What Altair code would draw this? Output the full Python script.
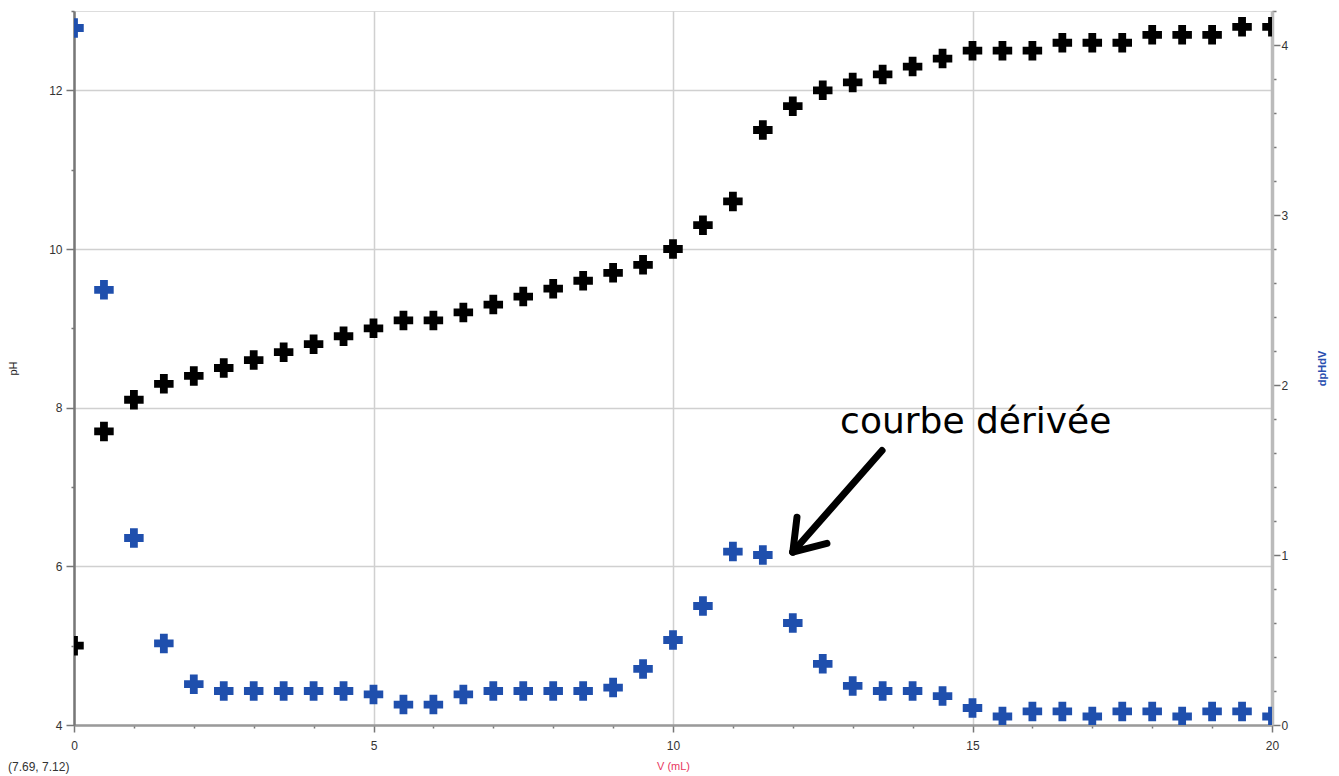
import altair as alt
import pandas as pd

volume = [i * 0.5 for i in range(41)]
ph = [5.0, 7.7, 8.1, 8.3, 8.4, 8.5, 8.6, 8.7, 8.8, 8.9, 9.0, 9.1, 9.1, 9.2, 9.3, 9.4,
      9.5, 9.6, 9.7, 9.8, 10.0, 10.3, 10.6, 11.5, 11.8, 12.0, 12.1, 12.2, 12.3, 12.4,
      12.5, 12.5, 12.5, 12.6, 12.6, 12.6, 12.7, 12.7, 12.7, 12.8, 12.8]
dphdv = [4.1, 2.56, 1.1, 0.48, 0.24, 0.2, 0.2, 0.2, 0.2, 0.2, 0.18, 0.12, 0.12, 0.18,
         0.2, 0.2, 0.2, 0.2, 0.22, 0.33, 0.5, 0.7, 1.02, 1.0, 0.6, 0.36, 0.23, 0.2,
         0.2, 0.17, 0.1, 0.05, 0.08, 0.08, 0.05, 0.08, 0.08, 0.05, 0.08, 0.08, 0.05]

# annotation arrow segments (data units: V, pH)
arrow_x1 = [13.49, 12.00, 12.00]
arrow_y1 = [7.46, 6.18, 6.18]
arrow_x2 = [12.00, 12.07, 12.57]
arrow_y2 = [6.18, 6.62, 6.29]
label_text = ["courbe dérivée"]
label_x = [12.79]
label_y = [7.68]

df = pd.DataFrame({"V": volume, "pH": ph, "dpHdV": dphdv})
arrow_df = pd.DataFrame({"x1": arrow_x1, "y1": arrow_y1, "x2": arrow_x2, "y2": arrow_y2})
label_df = pd.DataFrame({"t": label_text, "x": label_x, "y": label_y})

W, H = 1198, 714
BLUE = "#1f4fad"

xscale = alt.Scale(domain=[0, 20], nice=False, zero=False)
x_axis = alt.Axis(
    values=list(range(0, 21)),
    format="d",
    labelExpr="datum.value % 5 == 0 ? datum.label : ''",
    tickSize=alt.expr("datum.value % 5 == 0 ? 7 : 3"),
    gridOpacity=alt.expr("datum.value % 5 == 0 ? 1 : 0"),
    grid=True, gridColor="#d0d0d0", gridWidth=1.5,
    domainColor="#9a9a9a", domainWidth=2.5, tickColor="#777", tickWidth=1.5,
    labelFontSize=12, labelColor="#333", labelPadding=8, labelFlush=False,
    title="V (mL)", titleColor="#e8365e", titleFontSize=11, titleFontWeight="normal",
    titlePadding=9,
)
ph_axis = alt.Axis(
    values=list(range(4, 14)),
    format="d",
    labelExpr="datum.value % 2 == 0 ? datum.label : ''",
    tickSize=alt.expr("datum.value % 2 == 0 ? 8 : 3"),
    gridOpacity=alt.expr("datum.value % 2 == 0 ? 1 : 0"),
    grid=True, gridColor="#d0d0d0", gridWidth=1.5,
    domainColor="#777", domainWidth=2.5, tickColor="#777", tickWidth=1.5,
    labelFontSize=12, labelColor="#333", labelPadding=4, labelFlush=False,
    title="pH", titleFontSize=11, titleFontWeight="normal", titleColor="#222",
    titlePadding=30,
)
dp_axis = alt.Axis(
    orient="right",
    values=[round(i * 0.2, 1) for i in range(0, 22)],
    labelExpr="abs(datum.value - round(datum.value)) < 0.01 ? format(datum.value, 'd') : ''",
    tickSize=alt.expr("abs(datum.value - round(datum.value)) < 0.01 ? 8 : 4"),
    grid=False,
    domainColor="#bbbbbb", domainWidth=3.5, tickColor="#777", tickWidth=1.5,
    labelFontSize=12, labelColor="#333", labelPadding=1, labelFlush=False,
    title="dpHdV", titleFontSize=11, titleFontWeight="bold", titleColor="#2a4fb0",
    titleAngle=-90, titlePadding=40,
)

base = alt.Chart(df)
ph_pts = base.mark_point(shape="cross", filled=True, size=380, color="#000", opacity=1, clip=True).encode(
    x=alt.X("V:Q", scale=xscale, axis=x_axis),
    y=alt.Y("pH:Q", scale=alt.Scale(domain=[4, 13.0], nice=False, zero=False), axis=ph_axis),
)
arrow = alt.Chart(arrow_df).mark_rule(color="#000", strokeWidth=7, strokeCap="round").encode(
    x="x1:Q", y="y1:Q", x2="x2:Q", y2="y2:Q"
)
label = alt.Chart(label_df).mark_text(
    align="left", baseline="alphabetic", font="DejaVu Sans", fontSize=36, color="#000"
).encode(x="x:Q", y="y:Q", text="t:N")
coord = alt.Chart(pd.DataFrame({"t": ["(7.69, 7.12)"]})).mark_text(
    align="left", baseline="middle", fontSize=12, color="#333", clip=False
).encode(x=alt.value(-66), y=alt.value(H + 42), text="t:N")

left = alt.layer(ph_pts, arrow, label, coord)

dp_pts = base.mark_point(shape="cross", filled=True, size=380, color=BLUE, opacity=1, clip=True).encode(
    x=alt.X("V:Q", scale=xscale),
    y=alt.Y("dpHdV:Q", scale=alt.Scale(domain=[0, 4.2], nice=False, zero=False), axis=dp_axis),
)

chart = alt.layer(left, dp_pts).resolve_scale(y="independent").properties(
    width=W, height=H,
    padding={"left": 66, "top": 3, "right": 58, "bottom": 52},
    autosize=alt.AutoSizeParams(type="none"),
).configure_view(stroke="#c8c8c8", strokeWidth=2.5).configure(
    font="Liberation Sans"
)

chart.save("out.html", embed_options={"renderer": "svg", "actions": False})
